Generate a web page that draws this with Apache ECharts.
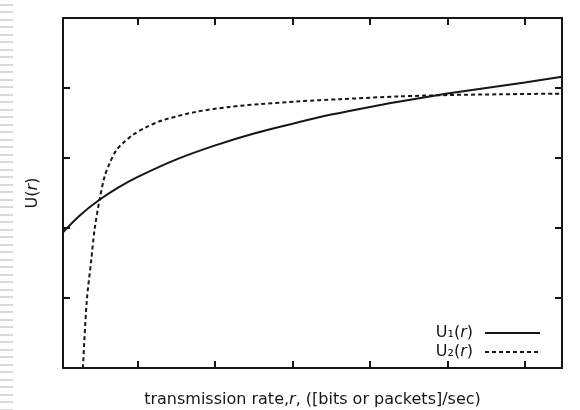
<!DOCTYPE html>
<html>
<head>
<meta charset="utf-8">
<script src="https://cdn.jsdelivr.net/npm/echarts@6/dist/echarts.min.js"></script>
<style>
  html, body { margin: 0; padding: 0; background: #fff; }
  #chart { width: 580px; height: 410px; position: absolute; left: 0; top: 0; }
  #stripes { position: absolute; left: 0; top: 4px; width: 13px; height: 406px; z-index: 2; pointer-events: none;
    background: repeating-linear-gradient(to bottom, #d9d9d9 0px, #d9d9d9 2px, rgba(255,255,255,0) 2px, rgba(255,255,255,0) 7.5px); }
</style>
</head>
<body>
<div id="chart"></div>
<div id="stripes"></div>
<script>
// ---- data ----
const xMin = 0.033, xMax = 6.48;
const yMin = 0, yMax = 5;
const xTicks = [1, 2, 3, 4, 5, 6];
const yTicks = [1, 2, 3, 4];

const xU1 = [0.033, 0.25, 0.5, 0.75, 1, 1.5, 2, 2.5, 3, 3.5, 4, 4.5, 5, 5.5, 6, 6.48];
const yU1 = [1.94, 2.18, 2.40, 2.58, 2.73, 2.98, 3.18, 3.35, 3.49, 3.62, 3.73, 3.83, 3.92, 4.00, 4.08, 4.16];

const xU2 = [0.279, 0.289, 0.341, 0.398, 0.440, 0.505, 0.569, 0.634, 0.721, 0.806, 0.935, 1.109, 1.323, 1.755, 2.186, 2.574, 3.091, 3.608, 4.383, 5.030, 5.676, 6.48];
const yU2 = [-0.1, 0, 0.97, 1.54, 1.97, 2.40, 2.73, 2.92, 3.11, 3.21, 3.33, 3.44, 3.54, 3.66, 3.73, 3.77, 3.81, 3.84, 3.88, 3.90, 3.91, 3.92];

const seriesNames = ['U\u2081({i|r})', 'U\u2082({i|r})'];
const xTitle = 'transmission rate,{i|r}, ([bits or packets]/sec)';
const yTitle = 'U({i|r})';

const FONT = '"DejaVu Sans", "Liberation Sans", Arial, sans-serif';
const INK = '#161616';

const chart = echarts.init(document.getElementById('chart'), null, { renderer: 'canvas' });

function frameAxis(extra) {
  return Object.assign({
    type: 'value',
    axisLine: { show: true, onZero: false, lineStyle: { color: INK, width: 2 } },
    axisTick: { show: true, inside: true, length: 7, lineStyle: { color: INK, width: 2 } },
    axisLabel: { show: false },
    splitLine: { show: false }
  }, extra);
}

const titleStyle = {
  fontFamily: FONT, fontSize: 16, color: INK,
  rich: { i: { fontFamily: FONT, fontSize: 16, fontStyle: 'italic', color: INK } }
};

const xCommon = { min: xMin, max: xMax };
const yCommon = { min: yMin, max: yMax, interval: 1 };

chart.setOption({
  animation: false,
  backgroundColor: 'transparent',
  grid: { left: 63, right: 18, top: 18, bottom: 42, containLabel: false, outerBoundsMode: 'none' },
  xAxis: [
    frameAxis(Object.assign({}, xCommon, {
      position: 'bottom',
      axisTick: { show: true, inside: true, length: 7, customValues: xTicks, lineStyle: { color: INK, width: 2 } },
      name: xTitle, nameLocation: 'middle', nameGap: 24, nameTextStyle: titleStyle
    })),
    frameAxis(Object.assign({}, xCommon, {
      position: 'top',
      axisTick: { show: true, inside: true, length: 7, customValues: xTicks, lineStyle: { color: INK, width: 2 } }
    }))
  ],
  yAxis: [
    frameAxis(Object.assign({}, yCommon, {
      position: 'left',
      name: yTitle, nameLocation: 'middle', nameGap: 22, nameTextStyle: titleStyle
    })),
    frameAxis(Object.assign({}, yCommon, { position: 'right' }))
  ],
  legend: {
    orient: 'vertical',
    right: 34, top: 320,
    align: 'right',
    itemWidth: 55, itemHeight: 12, itemGap: 3,
    itemStyle: { opacity: 0 },
    textStyle: {
      fontFamily: FONT, fontSize: 16, color: INK, padding: [0, 7, 0, 0],
      rich: { i: { fontFamily: FONT, fontSize: 16, fontStyle: 'italic', color: INK } }
    },
    data: seriesNames
  },
  series: [
    {
      name: seriesNames[0], type: 'line', xAxisIndex: 0, yAxisIndex: 0,
      data: xU1.map((x, k) => [x, yU1[k]]),
      symbol: 'none', smooth: 0.3, clip: true,
      lineStyle: { color: INK, width: 2, type: 'solid' },
      itemStyle: { color: INK }
    },
    {
      name: seriesNames[1], type: 'line', xAxisIndex: 0, yAxisIndex: 0,
      data: xU2.map((x, k) => [x, yU2[k]]),
      symbol: 'none', smooth: 0.3, clip: true,
      lineStyle: { color: INK, width: 2, type: [4, 3] },
      itemStyle: { color: INK }
    }
  ]
});
</script>
</body>
</html>
